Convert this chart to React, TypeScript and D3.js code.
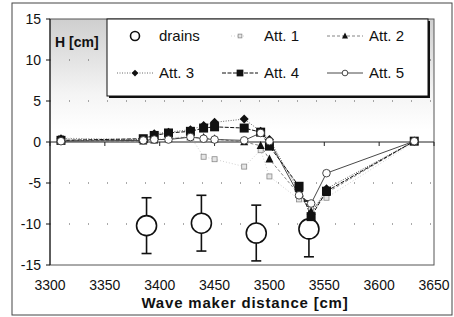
import React from "react";
import * as d3 from "d3";

// measured positions along the flume [cm]
const distances = [3310, 3385, 3395, 3408, 3428, 3440, 3450, 3477, 3492, 3500, 3527, 3538, 3552, 3632];

// wave height change H [cm] for each attempt
const att1 = [0.5, 0.2, 0.3, 0.5, 0.7, -1.8, -2.1, -3.0, -1.0, -4.2, -7.0, -8.0, -6.8, 0.0];
const att2 = [0.2, 0.1, 0.2, 0.4, 0.6, 0.5, 0.35, 0.0, -0.45, -2.1, -6.4, -8.5, -6.2, 0.1];
const att3 = [0.4, 0.3, 1.0, 1.2, 1.5, 2.0, 2.4, 2.8, 1.3, 0.3, -6.0, -8.8, -5.7, 0.1];
const att4 = [0.2, 0.4, 0.8, 1.1, 1.3, 1.7, 1.85, 1.7, 1.2, -0.5, -5.4, -9.1, -6.0, 0.1];
const att5 = [0.1, 0.2, 0.3, 0.3, 0.6, 0.4, 0.3, 0.2, 1.1, 0.1, -6.5, -7.5, -3.8, 0.1];

// drains with error bars
const drainX = [3388, 3438, 3488, 3536];
const drainH = [-10.2, -9.9, -11.1, -10.6];
const drainErr = [3.4, 3.4, 3.4, 3.4];

const xTicks = [3300, 3350, 3400, 3450, 3500, 3550, 3600, 3650];
const yTicks = [-15, -10, -5, 0, 5, 10, 15];

const FONT = "Liberation Sans, Arial, sans-serif";

type Marker = "square" | "smallSquare" | "triangle" | "diamond" | "circle";

const styles = [
  { name: "Att. 1", data: att1, marker: "smallSquare" as Marker, stroke: "#c4c4c4", dash: "1,2", width: 0.8 },
  { name: "Att. 2", data: att2, marker: "triangle" as Marker, stroke: "#666", dash: "3,2", width: 0.8 },
  { name: "Att. 3", data: att3, marker: "diamond" as Marker, stroke: "#444", dash: "1,1.5", width: 0.8 },
  { name: "Att. 4", data: att4, marker: "square" as Marker, stroke: "#111", dash: "4,1.5", width: 1 },
  { name: "Att. 5", data: att5, marker: "circle" as Marker, stroke: "#333", dash: "none", width: 0.9 },
];

function drawMarker(type: Marker, cx: number, cy: number, key: string, scale = 1) {
  if (type === "square") {
    const s = 9 * scale;
    return <rect key={key} x={cx - s / 2} y={cy - s / 2} width={s} height={s} fill="#111" />;
  }
  if (type === "smallSquare") {
    const s = 5 * scale;
    return (
      <rect key={key} x={cx - s / 2} y={cy - s / 2} width={s} height={s}
        fill="#e6e6e6" stroke="#8a8a8a" strokeWidth={0.8} />
    );
  }
  if (type === "triangle") {
    const s = 8 * scale;
    const p = `${cx},${cy - s * 0.6} ${cx + s / 2},${cy + s * 0.4} ${cx - s / 2},${cy + s * 0.4}`;
    return <polygon key={key} points={p} fill="#111" />;
  }
  if (type === "diamond") {
    const s = 4.5 * scale;
    const p = `${cx},${cy - s} ${cx + s},${cy} ${cx},${cy + s} ${cx - s},${cy}`;
    return <polygon key={key} points={p} fill="#111" />;
  }
  return <circle key={key} cx={cx} cy={cy} r={3.8 * scale} fill="#fff" stroke="#333" strokeWidth={0.9} />;
}

export default function App() {
  const x = d3.scaleLinear().domain([3300, 3650]).range([50, 434]);
  const y = d3.scaleLinear().domain([-15, 15]).range([265, 19]);

  const line = d3
    .line<[number, number]>()
    .x((d) => x(d[0]))
    .y((d) => y(d[1]));

  const [x0, x1] = x.range();
  const [yb, yt] = y.range();

  // legend layout
  const lg = { x: 107, y: 19, w: 321, h: 77 };
  const rows = [36, 73];
  const cols = [135, 240, 345];
  const legendItems = [
    { kind: "drains", label: "drains" },
    ...styles.map((s) => ({ kind: "att", label: s.name, s })),
  ];

  return (
    <svg width={454} height={317} style={{ position: "absolute", left: 0, top: 0, background: "#fff" }}
      fontFamily={FONT}>
      <defs>
        <linearGradient id="plotBg" x1="0" y1="0" x2="0" y2="1">
          <stop offset="0" stopColor="#cfcfcf" />
          <stop offset="0.3" stopColor="#f4f4f4" />
          <stop offset="0.45" stopColor="#fff" />
        </linearGradient>
      </defs>

      {/* outer frame */}
      <rect x={12} y={3} width={440} height={312} fill="none" stroke="#444" strokeWidth={1} />

      {/* plot area */}
      <rect x={x0} y={yt} width={x1 - x0} height={yb - yt} fill="url(#plotBg)" stroke="#555" strokeWidth={1} />

      {/* dotted gridlines */}
      {yTicks
        .filter((t) => t !== 0 && t !== -15 && t !== 15)
        .map((t) => (
          <line key={"g" + t} x1={x0} x2={x1} y1={y(t)} y2={y(t)} stroke="#555"
            strokeWidth={1} strokeDasharray="1,18" />
        ))}

      {/* y axis */}
      <line x1={x0} x2={x0} y1={yt} y2={yb} stroke="#111" strokeWidth={1} />
      {yTicks.map((t) => (
        <g key={"y" + t}>
          <line x1={x0 - 4} x2={x0} y1={y(t)} y2={y(t)} stroke="#111" />
          <text x={x0 - 9} y={y(t)} dy="0.35em" textAnchor="end" fontSize={14} fill="#111">
            {t}
          </text>
        </g>
      ))}

      {/* x axis crossing at zero */}
      <line x1={x0} x2={x1} y1={y(0)} y2={y(0)} stroke="#222" strokeWidth={1} />
      {xTicks.map((t) => (
        <g key={"x" + t}>
          <line x1={x(t)} x2={x(t)} y1={y(0)} y2={y(0) + 4} stroke="#222" />
          <text x={x(t)} y={290} textAnchor="middle" fontSize={14} fill="#111">
            {t}
          </text>
        </g>
      ))}
      <text x={245} y={308} textAnchor="middle" fontSize={15} fontWeight="bold" letterSpacing={0.8} fill="#111">
        Wave maker distance [cm]
      </text>
      <text x={55} y={47} fontSize={14} fontWeight="bold" fill="#111">
        H [cm]
      </text>

      {/* series lines */}
      {styles.map((s) => (
        <path key={"l" + s.name}
          d={line(distances.map((d, i) => [d, s.data[i]] as [number, number])) || ""}
          fill="none" stroke={s.stroke} strokeWidth={s.width}
          strokeDasharray={s.dash === "none" ? undefined : s.dash} />
      ))}

      {/* drains with error bars */}
      {drainX.map((d, i) => {
        const cx = x(d);
        const top = y(drainH[i] + drainErr[i]);
        const bot = y(drainH[i] - drainErr[i]);
        return (
          <g key={"dr" + i} stroke="#111" strokeWidth={1.6}>
            <line x1={cx} x2={cx} y1={top} y2={bot} />
            <line x1={cx - 5} x2={cx + 5} y1={top} y2={top} />
            <line x1={cx - 5} x2={cx + 5} y1={bot} y2={bot} />
            <circle cx={cx} cy={y(drainH[i])} r={10} fill="#fff" />
          </g>
        );
      })}

      {/* series markers */}
      {styles.map((s) =>
        distances.map((d, i) => drawMarker(s.marker, x(d), y(s.data[i]), s.name + i))
      )}

      {/* legend */}
      <rect x={lg.x + 2} y={lg.y + 2} width={lg.w} height={lg.h} fill="#111" />
      <rect x={lg.x} y={lg.y} width={lg.w} height={lg.h} fill="#fff" stroke="#111" strokeWidth={1} />
      {legendItems.map((it, i) => {
        const cx = cols[i % 3];
        const cy = rows[Math.floor(i / 3)];
        return (
          <g key={"lg" + i}>
            {it.kind === "drains" ? (
              <circle cx={cx} cy={cy} r={4.5} fill="#fff" stroke="#111" strokeWidth={1.6} />
            ) : (
              <>
                <line x1={cx - (it.s!.marker === "smallSquare" ? 9 : 18)}
                  x2={cx + (it.s!.marker === "smallSquare" ? 6 : 18)} y1={cy} y2={cy}
                  stroke={it.s!.stroke} strokeWidth={it.s!.width}
                  strokeDasharray={it.s!.dash === "none" ? undefined : it.s!.dash} />
                {drawMarker(it.s!.marker, cx, cy, "lm" + i, 0.75)}
              </>
            )}
            <text x={cx + 24} y={cy} dy="0.36em" fontSize={15} fill="#111">
              {it.label}
            </text>
          </g>
        );
      })}
    </svg>
  );
}
